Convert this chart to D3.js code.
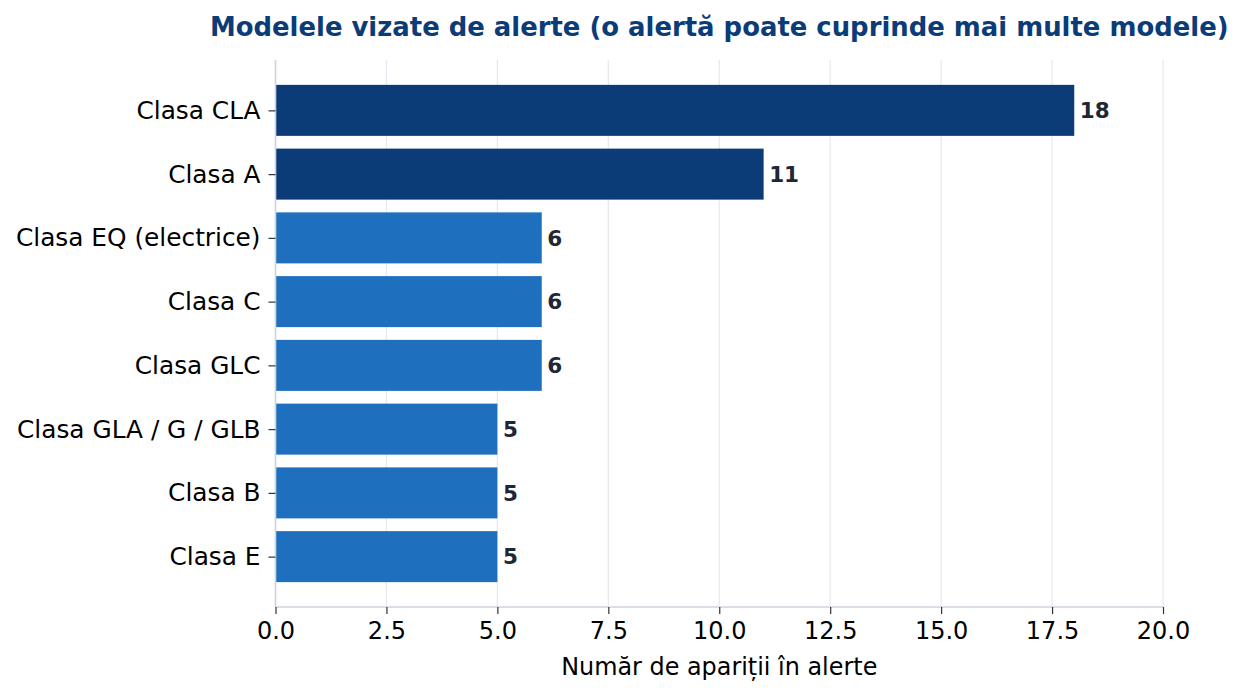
<!DOCTYPE html>
<html><head><meta charset="utf-8">
<script src="https://cdn.jsdelivr.net/npm/d3@7"></script>
<style>body{margin:0;background:#fff}svg{display:block}text{font-family:"DejaVu Sans",sans-serif}</style>
</head><body><svg id="c" width="1244" height="695"></svg>
<script>
const categories = ["Clasa CLA","Clasa A","Clasa EQ (electrice)","Clasa C","Clasa GLC","Clasa GLA / G / GLB","Clasa B","Clasa E"];
const values = [18,11,6,6,6,5,5,5];
const highlight = [true,true,false,false,false,false,false,false];
const xTicks = [0,2.5,5,7.5,10,12.5,15,17.5,20];
const title = "Modelele vizate de alerte (o alertă poate cuprinde mai multe modele)";
const xLabel = "Număr de apariții în alerte";

const svg = d3.select("#c");
const L=275.5,R=1163,T=60,B=607;
const x = d3.scaleLinear().domain([0,20]).range([L,R]);
const n = categories.length;
const y = d3.scaleLinear().domain([-0.79, n-1+0.79]).range([T,B]);
const bh = (y(0.8)-y(0));

// grid
svg.append("g").selectAll("line").data(xTicks).join("line")
  .attr("x1",d=>x(d)).attr("x2",d=>x(d)).attr("y1",T).attr("y2",B)
  .attr("stroke","#e5e8ee").attr("stroke-width",1.2);

// bars
svg.append("g").selectAll("rect").data(values).join("rect")
  .attr("x",x(0)).attr("y",(d,i)=>y(i)-bh/2).attr("width",d=>x(d)-x(0)).attr("height",bh)
  .attr("fill",(d,i)=>highlight[i]?"#0b3c78":"#1f6fbf");

// value labels
svg.append("g").selectAll("text").data(values).join("text")
  .attr("x",d=>x(d)+5.5).attr("y",(d,i)=>y(i)).attr("dy","0.36em")
  .attr("font-size",21.5).attr("font-weight","bold").attr("fill","#1f2733")
  .text(d=>d);

// spines
svg.append("line").attr("x1",L).attr("x2",L).attr("y1",T).attr("y2",B).attr("stroke","#cfd4dd").attr("stroke-width",1.6);
svg.append("line").attr("x1",L).attr("x2",R).attr("y1",B).attr("y2",B).attr("stroke","#cfd4dd").attr("stroke-width",1.6);

// x axis
const xa = svg.append("g").attr("transform",`translate(0,${B})`)
  .call(d3.axisBottom(x).tickValues(xTicks).tickFormat(d3.format(".1f")).tickSize(7).tickPadding(8));
xa.select(".domain").remove();
xa.selectAll("line").attr("stroke","#333").attr("stroke-width",1.2);
xa.selectAll("text").attr("font-size",24).attr("fill","#000").attr("font-family","DejaVu Sans");

// y axis
const ya = svg.append("g").attr("transform",`translate(${L},0)`)
  .call(d3.axisLeft(y).tickValues(d3.range(n)).tickFormat(i=>categories[i]).tickSize(7).tickPadding(8));
ya.select(".domain").remove();
ya.selectAll("line").attr("stroke","#333").attr("stroke-width",1.2);
ya.selectAll("text").attr("font-size",24.8).attr("fill","#000").attr("font-family","DejaVu Sans");

svg.append("text").attr("x",(L+R)/2).attr("y",36).attr("text-anchor","middle")
  .attr("font-size",25.9).attr("font-weight","bold").attr("fill","#0b3c78").text(title);
svg.append("text").attr("x",(L+R)/2).attr("y",675).attr("text-anchor","middle")
  .attr("font-size",23.9).attr("fill","#000").text(xLabel);
</script></body></html>
